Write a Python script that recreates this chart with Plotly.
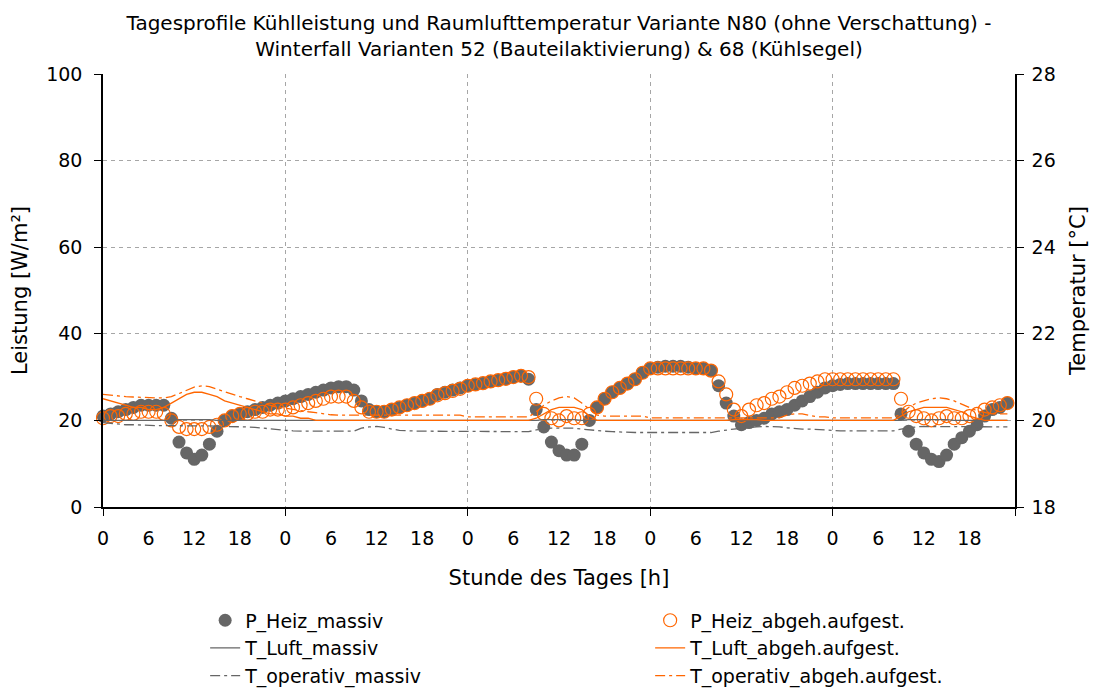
import plotly.graph_objects as go

# Farben (Excel-Stil)
COLOR_GREY = "#666666"
COLOR_ORANGE = "#ff6600"
COLOR_GRID = "#a6a6a6"
FONT = "DejaVu Sans"

# Stunden der 5 Tage (stündliche Werte)
hours = list(range(120))
tick_hours = [0, 6, 12, 18, 24, 30, 36, 42, 48, 54, 60, 66, 72, 78, 84, 90, 96, 102, 108, 114]
tick_labels = ["0", "6", "12", "18"] * 5
day_ticks = [0, 24, 48, 72, 96, 120]

# Heizleistung [W/m²]
p_heiz_massiv = [
    21.0, 21.5, 22.0, 22.5, 23.0, 23.5, 23.5, 23.5, 23.5, 20.5, 15.0, 12.5, 11.0, 12.0, 14.5, 17.5, 20.0, 21.0, 21.5, 22.0, 22.5, 23.0, 23.5, 24.0,
    24.5, 25.0, 25.5, 26.0, 26.5, 27.0, 27.5, 27.8, 27.8, 27.0, 24.5, 22.5, 22.0, 22.0, 22.5, 23.0, 23.5, 24.0, 24.5, 25.0, 26.0, 26.5, 27.0, 27.5,
    28.0, 28.3, 28.6, 29.0, 29.3, 29.6, 30.0, 30.3, 29.5, 22.5, 18.5, 15.0, 13.0, 12.0, 12.0, 14.5, 20.0, 23.0, 25.0, 26.5, 27.5, 28.5, 29.5, 31.0,
    32.0, 32.3, 32.5, 32.5, 32.5, 32.3, 32.0, 32.0, 31.5, 28.0, 24.0, 21.0, 19.0, 19.5, 20.0, 20.5, 21.5, 22.0, 22.5, 23.5, 24.5, 25.5, 26.5, 27.5,
    28.0, 28.3, 28.5, 28.5, 28.5, 28.5, 28.5, 28.5, 28.5, 21.5, 17.5, 14.5, 12.5, 11.0, 10.5, 12.0, 14.5, 16.0, 17.5, 19.0, 21.0, 22.5, 23.0, 24.0,
]
p_heiz_abgeh = [
    20.5, 21.0, 21.0, 21.5, 21.5, 22.0, 22.0, 22.0, 21.5, 20.0, 18.5, 18.0, 18.0, 18.0, 18.5, 19.0, 20.0, 21.0, 21.5, 21.5, 22.0, 22.0, 22.5, 22.5,
    22.5, 23.0, 23.5, 24.0, 24.5, 25.0, 25.5, 25.5, 25.5, 24.5, 23.0, 22.0, 22.0, 22.0, 22.5, 23.0, 23.5, 24.0, 24.5, 25.0, 25.8, 26.3, 26.8, 27.3,
    28.0, 28.3, 28.6, 29.0, 29.3, 29.6, 30.0, 30.3, 30.0, 25.0, 21.5, 20.5, 20.0, 21.0, 20.5, 20.5, 21.5, 23.0, 25.0, 26.5, 27.5, 28.5, 29.5, 31.0,
    32.0, 32.0, 32.0, 32.0, 32.0, 32.0, 32.0, 32.0, 31.5, 29.0, 26.0, 22.5, 21.0, 22.5, 23.5, 24.0, 25.0, 25.5, 26.5, 27.5, 28.0, 28.5, 29.0, 29.5,
    29.5, 29.5, 29.5, 29.5, 29.5, 29.5, 29.5, 29.5, 29.5, 25.0, 22.0, 21.0, 20.5, 20.0, 20.5, 21.0, 20.5, 20.5, 21.0, 21.5, 22.5, 23.0, 23.5, 24.0,
]

# Temperaturen [°C]
t_luft_massiv = [
    20.00, 20.00, 20.00, 20.00, 20.00, 20.00, 20.00, 20.00, 20.00, 20.00, 20.02, 20.02, 20.02, 20.02, 20.02, 20.00, 20.00, 20.00, 20.00, 20.00, 20.00, 20.00, 20.00, 20.00,
    20.00, 20.00, 20.00, 20.00, 20.00, 20.00, 20.00, 20.00, 20.00, 20.00, 20.00, 20.00, 20.00, 20.00, 20.00, 20.00, 20.00, 20.00, 20.00, 20.00, 20.00, 20.00, 20.00, 20.00,
    20.00, 20.00, 20.00, 20.00, 20.00, 20.00, 20.00, 20.00, 20.00, 20.00, 20.02, 20.02, 20.02, 20.02, 20.02, 20.00, 20.00, 20.00, 20.00, 20.00, 20.00, 20.00, 20.00, 20.00,
    20.00, 20.00, 20.00, 20.00, 20.00, 20.00, 20.00, 20.00, 20.00, 20.00, 20.00, 20.00, 20.00, 20.00, 20.00, 20.00, 20.00, 20.00, 20.00, 20.00, 20.00, 20.00, 20.00, 20.00,
    20.00, 20.00, 20.00, 20.00, 20.00, 20.00, 20.00, 20.00, 20.00, 20.00, 20.02, 20.02, 20.02, 20.02, 20.02, 20.02, 20.00, 20.00, 20.00, 20.00, 20.00, 20.00, 20.00, 20.00,
]
t_luft_abgeh = [
    20.50, 20.45, 20.40, 20.35, 20.30, 20.30, 20.25, 20.25, 20.30, 20.40, 20.50, 20.60, 20.65, 20.65, 20.60, 20.55, 20.45, 20.40, 20.35, 20.30, 20.25, 20.20, 20.15, 20.15,
    20.10, 20.10, 20.05, 20.05, 20.00, 20.00, 20.00, 20.00, 20.00, 20.00, 20.00, 20.00, 20.00, 20.00, 20.00, 20.00, 20.00, 20.00, 20.00, 20.00, 20.00, 20.00, 20.00, 20.00,
    20.00, 20.00, 20.00, 20.00, 20.00, 20.00, 20.00, 20.00, 20.00, 20.05, 20.15, 20.25, 20.30, 20.30, 20.30, 20.25, 20.10, 20.00, 20.00, 20.00, 20.00, 20.00, 20.00, 20.00,
    20.00, 20.00, 20.00, 20.00, 20.00, 20.00, 20.00, 20.00, 20.00, 20.00, 20.00, 20.02, 20.02, 20.02, 20.02, 20.00, 20.00, 20.00, 20.00, 20.00, 20.00, 20.00, 20.00, 20.00,
    20.00, 20.00, 20.00, 20.00, 20.00, 20.00, 20.00, 20.00, 20.00, 20.10, 20.20, 20.25, 20.30, 20.30, 20.30, 20.30, 20.25, 20.20, 20.10, 20.05, 20.00, 20.00, 20.00, 20.00,
]
t_operativ_massiv = [
    19.95, 19.93, 19.92, 19.90, 19.90, 19.89, 19.88, 19.88, 19.88, 19.88, 19.88, 19.88, 19.88, 19.88, 19.88, 19.87, 19.86, 19.86, 19.85, 19.85, 19.84, 19.82, 19.80, 19.78,
    19.77, 19.76, 19.75, 19.75, 19.75, 19.75, 19.75, 19.75, 19.75, 19.75, 19.82, 19.85, 19.86, 19.84, 19.80, 19.77, 19.76, 19.75, 19.75, 19.75, 19.75, 19.75, 19.75, 19.75,
    19.74, 19.74, 19.74, 19.74, 19.74, 19.74, 19.74, 19.74, 19.74, 19.78, 19.80, 19.82, 19.82, 19.82, 19.82, 19.80, 19.78, 19.76, 19.75, 19.74, 19.73, 19.73, 19.72, 19.72,
    19.72, 19.72, 19.72, 19.72, 19.72, 19.72, 19.72, 19.72, 19.72, 19.75, 19.78, 19.80, 19.82, 19.84, 19.85, 19.86, 19.86, 19.85, 19.83, 19.81, 19.80, 19.80, 19.79, 19.78,
    19.76, 19.76, 19.76, 19.76, 19.76, 19.76, 19.76, 19.76, 19.76, 19.80, 19.83, 19.85, 19.86, 19.86, 19.86, 19.86, 19.86, 19.86, 19.85, 19.85, 19.85, 19.85, 19.85, 19.85,
]
t_operativ_abgeh = [
    20.60, 20.58, 20.56, 20.55, 20.54, 20.53, 20.52, 20.52, 20.52, 20.55, 20.62, 20.70, 20.77, 20.80, 20.78, 20.72, 20.66, 20.60, 20.55, 20.50, 20.45, 20.40, 20.35, 20.30,
    20.28, 20.25, 20.22, 20.20, 20.18, 20.15, 20.13, 20.12, 20.12, 20.12, 20.12, 20.12, 20.12, 20.12, 20.12, 20.12, 20.12, 20.12, 20.12, 20.12, 20.12, 20.12, 20.12, 20.12,
    20.08, 20.08, 20.08, 20.08, 20.08, 20.08, 20.08, 20.08, 20.08, 20.20, 20.35, 20.45, 20.52, 20.55, 20.52, 20.40, 20.25, 20.12, 20.10, 20.10, 20.10, 20.10, 20.10, 20.10,
    20.06, 20.06, 20.06, 20.06, 20.06, 20.06, 20.06, 20.06, 20.06, 20.06, 20.06, 20.06, 20.06, 20.06, 20.06, 20.06, 20.06, 20.06, 20.12, 20.15, 20.15, 20.12, 20.08, 20.08,
    20.06, 20.06, 20.06, 20.06, 20.06, 20.06, 20.06, 20.06, 20.06, 20.15, 20.30, 20.40, 20.45, 20.50, 20.52, 20.50, 20.45, 20.38, 20.30, 20.22, 20.18, 20.15, 20.15, 20.15,
]

fig = go.Figure()

# Leistung (linke Achse)
fig.add_trace(go.Scatter(
    x=hours, y=p_heiz_massiv, name="P_Heiz_massiv", mode="markers",
    marker=dict(symbol="circle", size=13, color=COLOR_GREY),
    cliponaxis=False,
))
fig.add_trace(go.Scatter(
    x=hours, y=p_heiz_abgeh, name="P_Heiz_abgeh.aufgest.", mode="markers",
    marker=dict(symbol="circle-open", size=13, color=COLOR_ORANGE, line=dict(width=1.2)),
    cliponaxis=False,
))

# Temperaturen (rechte Achse)
fig.add_trace(go.Scatter(
    x=hours, y=t_luft_massiv, name="T_Luft_massiv", mode="lines",
    line=dict(color=COLOR_GREY, width=1.3), xaxis="x2", yaxis="y2",
))
fig.add_trace(go.Scatter(
    x=hours, y=t_luft_abgeh, name="T_Luft_abgeh.aufgest.", mode="lines",
    line=dict(color=COLOR_ORANGE, width=1.3), xaxis="x2", yaxis="y2",
))
fig.add_trace(go.Scatter(
    x=hours, y=t_operativ_massiv, name="T_operativ_massiv", mode="lines",
    line=dict(color=COLOR_GREY, width=1.3, dash="10px,4px,3px,4px"), xaxis="x2", yaxis="y2",
))
fig.add_trace(go.Scatter(
    x=hours, y=t_operativ_abgeh, name="T_operativ_abgeh.aufgest.", mode="lines",
    line=dict(color=COLOR_ORANGE, width=1.3, dash="10px,4px,3px,4px"), xaxis="x2", yaxis="y2",
))

# Ränder: die Seite hat 8 px Body-Rand, daher hier verschoben
fig.update_layout(
    width=1098, height=694,
    paper_bgcolor="white", plot_bgcolor="white",
    margin=dict(l=95, r=91, t=66, b=195, autoexpand=False),
    font=dict(family=FONT, size=18, color="black"),
    title=dict(
        text="Tagesprofile Kühlleistung und Raumlufttemperatur Variante N80 (ohne Verschattung) -<br>"
             "Winterfall Varianten 52 (Bauteilaktivierung) & 68 (Kühlsegel)",
        x=0.5, xref="paper", y=0.968, yanchor="top",
        font=dict(family=FONT, size=20),
    ),
    showlegend=True,
    legend=dict(
        orientation="h", x=0.112, y=-0.218, xanchor="left", yanchor="top",
        entrywidth=400, entrywidthmode="pixels",
        font=dict(family=FONT, size=19), bgcolor="rgba(0,0,0,0)",
    ),
    xaxis=dict(
        range=[0, 120], tickmode="array", tickvals=day_ticks, showticklabels=False,
        ticks="outside", ticklen=7, tickcolor="black", automargin=False,
        showgrid=True, gridcolor=COLOR_GRID, griddash="4px,4px", gridwidth=1,
        showline=True, linecolor="black", linewidth=1.5, zeroline=False,
    ),
    xaxis2=dict(
        range=[0, 120], overlaying="x", anchor="y2", side="bottom", automargin=False,
        tickmode="array", tickvals=tick_hours, ticktext=tick_labels,
        ticks="", ticklabelstandoff=18, showgrid=False, zeroline=False, showline=False,
        tickfont=dict(family=FONT, size=19),
        title=dict(text="Stunde des Tages [h]", font=dict(family=FONT, size=21), standoff=22),
    ),
    yaxis=dict(
        range=[0, 100], dtick=20, ticks="outside", ticklen=7, tickcolor="black",
        ticklabelstandoff=8, automargin=False,
        showgrid=True, gridcolor=COLOR_GRID, griddash="4px,4px", gridwidth=1,
        showline=True, linecolor="black", linewidth=1.5, zeroline=False,
        tickfont=dict(family=FONT, size=19),
        title=dict(text="Leistung [W/m²]", font=dict(family=FONT, size=21), standoff=14),
    ),
    yaxis2=dict(
        range=[18, 28], dtick=2, overlaying="y", side="right", anchor="x2",
        ticks="outside", ticklen=7, tickcolor="black", ticklabelstandoff=4, automargin=False,
        showgrid=False, showline=True, linecolor="black", linewidth=1.5, zeroline=False,
        tickfont=dict(family=FONT, size=19),
        title=dict(text="Temperatur [°C]", font=dict(family=FONT, size=21), standoff=16),
    ),
)

fig.write_html("out.html")
